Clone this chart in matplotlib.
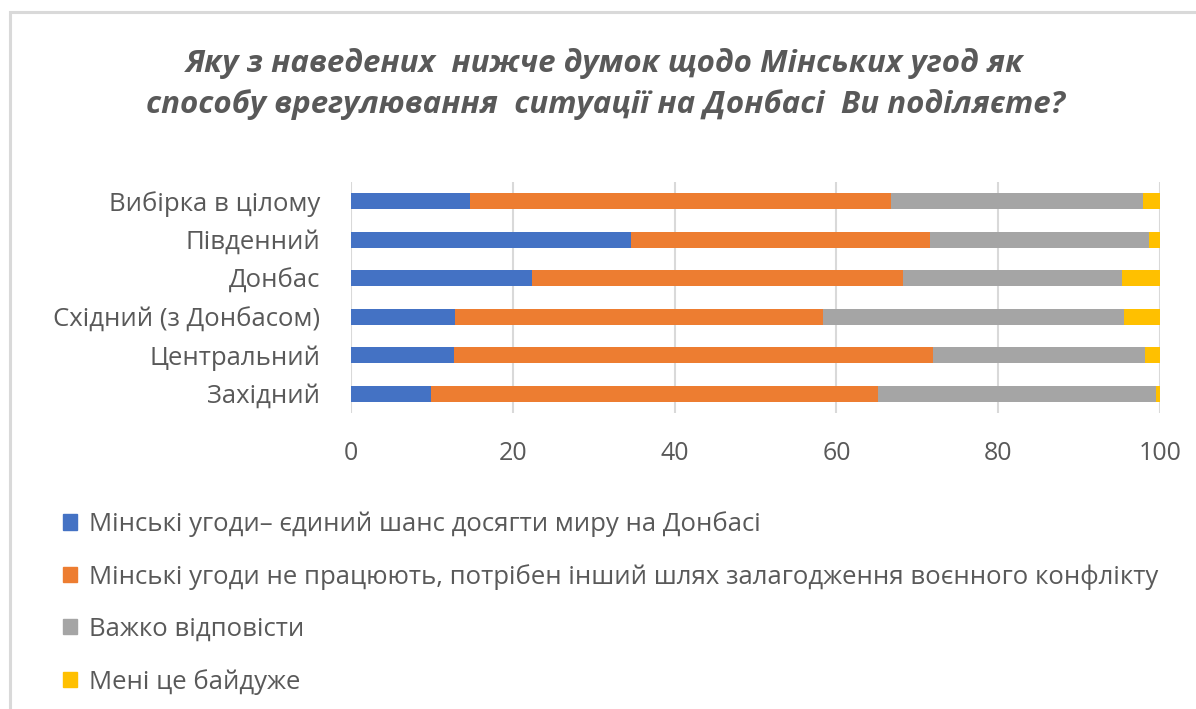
import matplotlib
matplotlib.use("Agg")
import matplotlib.pyplot as plt
from matplotlib.patches import Patch, Rectangle

plt.rcParams['font.family'] = ['Open Sans', 'DejaVu Sans']

categories = ["Вибірка в цілому", "Південний", "Донбас",
              "Східний (з Донбасом)", "Центральний", "Західний"]
series_names = ["Мінські угоди– єдиний шанс досягти миру на Донбасі",
                "Мінські угоди не працюють, потрібен інший шлях залагодження воєнного конфлікту",
                "Важко відповісти",
                "Мені це байдуже"]
s1 = [14.7, 34.6, 22.4, 12.9, 12.7, 9.9]
s2 = [52.0, 37.0, 45.8, 45.4, 59.2, 55.3]
s3 = [31.2, 27.0, 27.1, 37.3, 26.3, 34.3]
s4 = [2.1, 1.4, 4.7, 4.4, 1.8, 0.5]
colors = ["#4472C4", "#ED7D31", "#A5A5A5", "#FFC000"]
xticks = [0, 20, 40, 60, 80, 100]
title = "Яку з наведених  нижче думок щодо Мінських угод як\nспособу врегулювання  ситуації на Донбасі  Ви поділяєте?"

W, H = 1196, 709
fig = plt.figure(figsize=(W / 100, H / 100), dpi=100)
fig.patch.set_facecolor("white")

# chart area border
fig.add_artist(Rectangle((10 / W, -0.05), 1.2, 1 - 11.5 / H + 0.05,
                         transform=fig.transFigure, fill=False,
                         edgecolor="#D9D9D9", linewidth=2.2))

ax = fig.add_axes([351 / W, 1 - 413 / H, (1160 - 351) / W, (413 - 182) / H])
y = list(range(len(categories)))
left = [0.0] * len(categories)
for vals, c, name in zip([s1, s2, s3, s4], colors, series_names):
    ax.barh(y, vals, left=left, height=0.41, color=c, label=name, zorder=3)
    left = [a + b for a, b in zip(left, vals)]

ax.set_ylim(len(categories) - 0.5, -0.5)
ax.set_xlim(0, 100)
ax.set_yticks(y)
ax.set_yticklabels(categories, fontsize=18.5, color="#595959")
ax.set_xticks(xticks)
ax.set_xticklabels([str(t) for t in xticks], fontsize=18, color="#595959")
ax.tick_params(axis="both", length=0)
ax.tick_params(axis="y", pad=22)
ax.tick_params(axis="x", pad=20)
for s in ax.spines.values():
    s.set_visible(False)
ax.grid(axis="x", color="#D9D9D9", linewidth=1.5, zorder=0)

fig.text(605 / W, 1 - 84 / H, title, ha="center", va="center", fontsize=22.5,
         fontweight="bold", fontstyle="italic", color="#595959",
         linespacing=1.4)

handles = [Patch(facecolor=c, edgecolor=c) for c in colors]
leg = fig.legend(handles, series_names, loc="upper left",
                 bbox_to_anchor=(40 / W, 1 - 488 / H), frameon=False,
                 fontsize=18.5, labelcolor="#595959", handlelength=0.55,
                 handleheight=0.55, handletextpad=0.45, labelspacing=1.05)

fig.savefig("out.png", dpi=100, facecolor="white")
